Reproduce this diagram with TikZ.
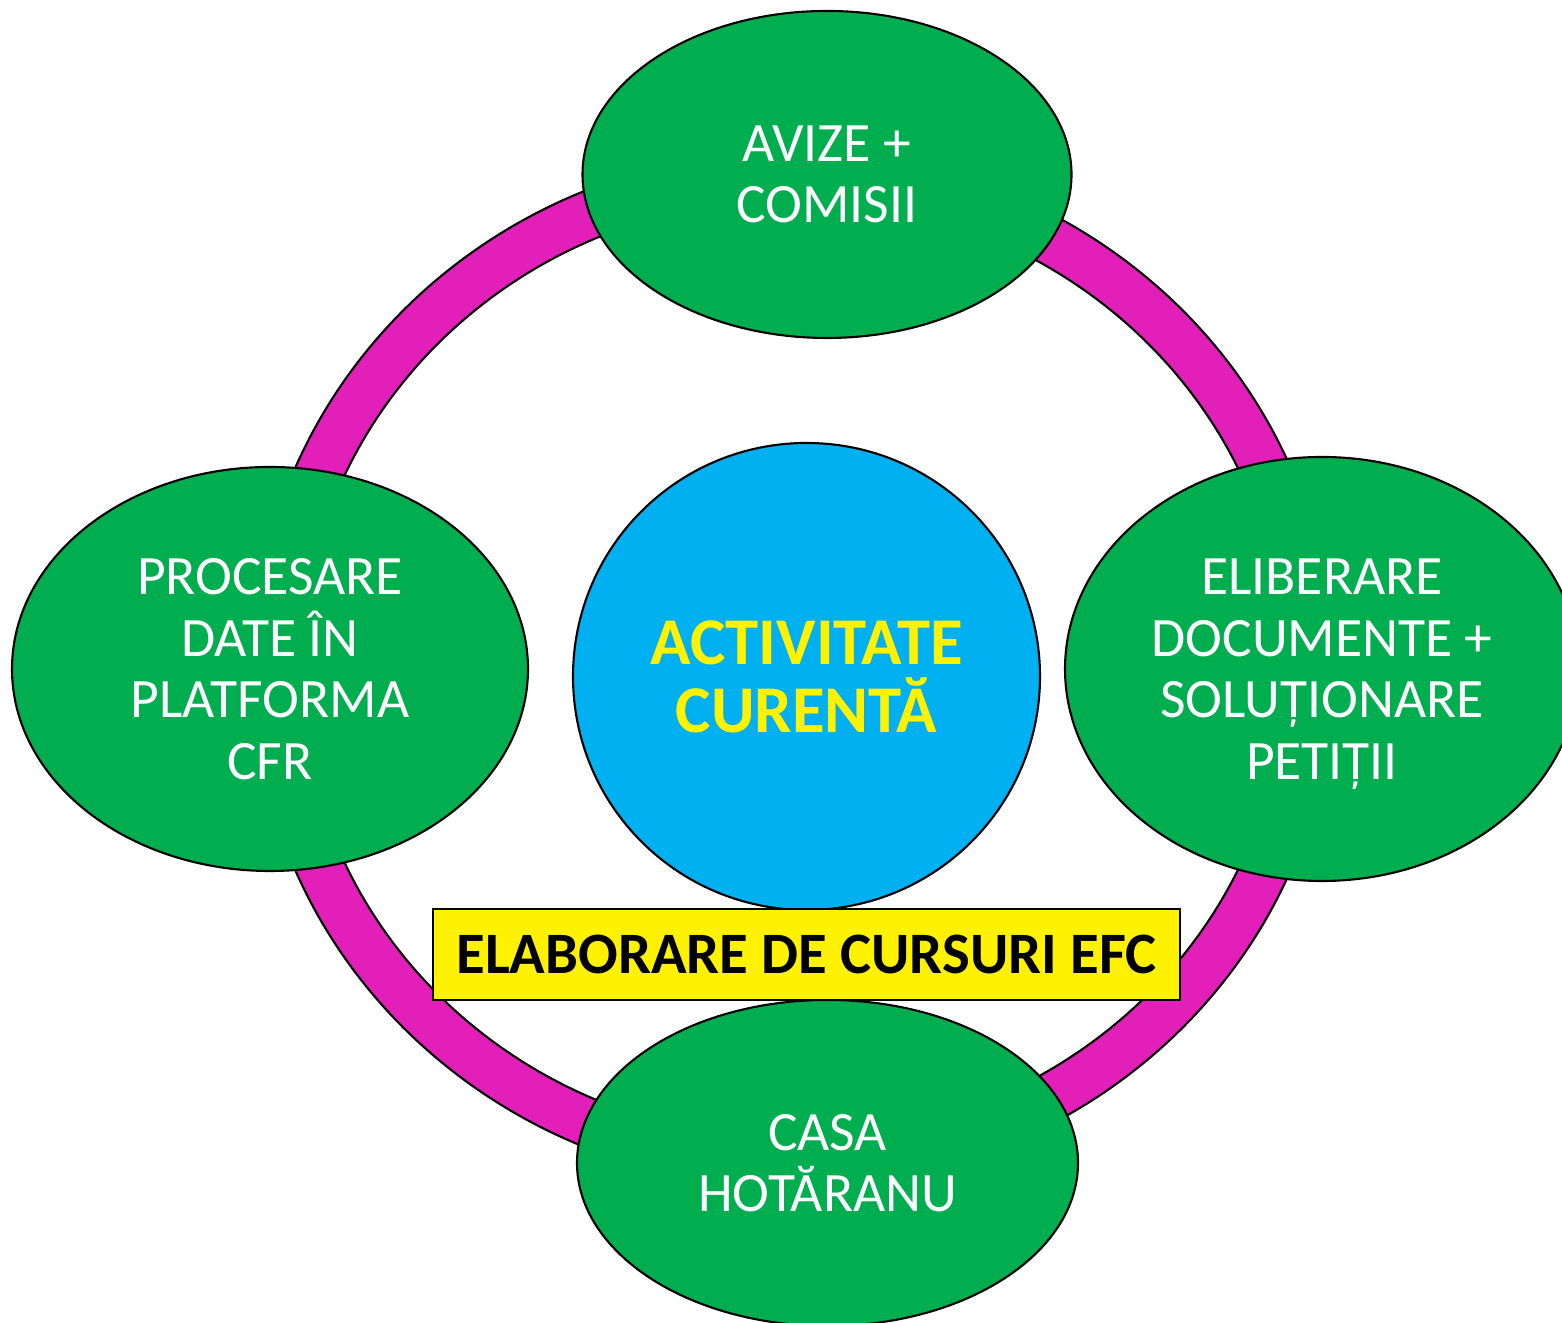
\documentclass[tikz,border=0pt]{standalone}
\usepackage{fontspec}
\setmainfont{Carlito}
\usetikzlibrary{shapes.geometric}

\definecolor{ringpink}{HTML}{E31FB9}
\definecolor{bubblegreen}{HTML}{00AE50}
\definecolor{corecyan}{HTML}{00B0F0}

\tikzset{
  bubble/.style={ellipse, draw=black, line width=0.6pt, fill=bubblegreen,
    text=white, align=center, inner sep=0pt,
    font=\fontsize{15.8}{17.5}\selectfont},
}

\begin{document}
\begin{tikzpicture}

% Page
\clip (0,0) rectangle (15.62,13.23);
\fill[white] (0,0) rectangle (15.62,13.23);

%% RING
\coordinate (ringc) at (7.93,6.54);
\filldraw[fill=ringpink, draw=black, line width=0.6pt, even odd rule]
  (ringc) ellipse (5.40 and 5.18) (ringc) ellipse (4.92 and 4.70);

%% BUBBLES
% Top
\node[bubble, minimum width=4.89cm, minimum height=3.27cm] (avize) at (8.27,11.485) {AVIZE +\\COMISII};
% Left
\node[bubble, minimum width=5.16cm, minimum height=4.04cm] (procesare) at (2.70,6.54) {PROCESARE\\DATE ÎN\\PLATFORMA\\CFR};
% Right
\node[bubble, minimum width=5.14cm, minimum height=4.24cm] (eliberare) at (13.22,6.54) {ELIBERARE\\DOCUMENTE +\\SOLUȚIONARE\\PETI\smash{Ț}II};
% Bottom
\node[bubble, minimum width=5.01cm, minimum height=3.26cm] (casa) at (8.275,1.60) {CASA\\HOTĂRANU};

%% CENTRE
\node[circle, draw=black, line width=0.6pt, fill=corecyan, minimum size=4.67cm, inner sep=0pt,
  text=yellow, align=center, font=\bfseries\fontsize{19}{19.4}\selectfont] (activitate) at (8.065,6.465) {ACTIVITATE\\CURENTĂ};

% Label
\node[draw=black, line width=0.6pt, fill=yellow, minimum width=7.47cm, minimum height=0.91cm, inner sep=0pt,
  font=\bfseries\fontsize{16.7}{20}\selectfont] (cursuri) at (8.065,3.685) {ELABORARE DE CURSURI EFC};

\end{tikzpicture}
\end{document}
